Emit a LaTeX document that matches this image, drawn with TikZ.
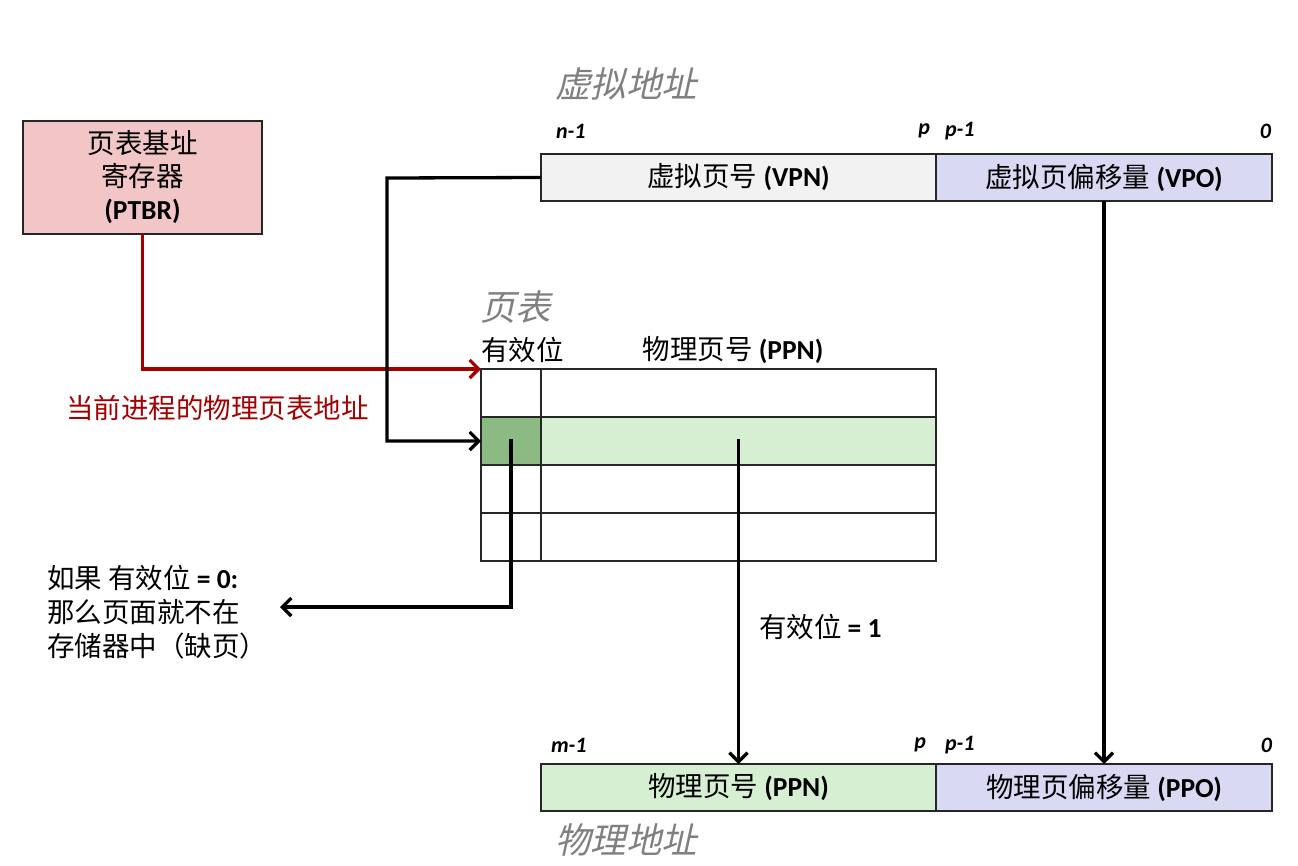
\documentclass[tikz,border=0pt]{standalone}
\usepackage{fontspec}
\setmainfont{Carlito}
\newfontfamily\cjk{Noto Sans CJK SC}
\newfontfamily\cjkit{Noto Sans CJK SC}[FakeSlant=0.22]
\usetikzlibrary{arrows.meta}
\definecolor{ptbrpink}{RGB}{242,198,198}
\definecolor{vpngray}{RGB}{242,242,242}
\definecolor{lav}{RGB}{217,217,243}
\definecolor{lgreen}{RGB}{214,239,210}
\definecolor{dgreen}{RGB}{139,187,130}
\definecolor{darkred}{RGB}{165,0,0}
\definecolor{titlegray}{RGB}{128,128,128}
\newcommand{\bodyfont}{\fontsize{27.5}{34}\selectfont}
\newcommand{\bitfont}{\fontsize{22}{26}\selectfont\bfseries\itshape}
\newcommand{\titlefont}{\fontsize{35.5}{42}\selectfont\cjkit\color{titlegray}}
\begin{document}
\begin{tikzpicture}[x=1pt,y=-1pt,
  box/.style={draw=black!85,line width=1.5pt,anchor=north west,inner sep=0pt,outer sep=0pt,font=\bodyfont},
  cell/.style={box,minimum height=48},
  lbl/.style={inner sep=0pt,outer sep=0pt,font=\bodyfont},
  bit/.style={inner sep=0pt,outer sep=0pt,font=\bitfont},
  ttl/.style={inner sep=0pt,outer sep=0pt,anchor=west,font=\titlefont},
  arr/.style={draw=black,line width=3.3pt,-{Straight Barb[length=9,width=18,line width=3.3pt]}},
  redarr/.style={draw=darkred,line width=3.3pt,-{Straight Barb[length=9,width=18,line width=3.3pt]}}]
\useasboundingbox (0,0) rectangle (1298,865);
% PTBR
\node[box,fill=ptbrpink,minimum width=239,minimum height=113,align=center] (ptbr) at (23,121)
  {{\cjk 页表基址}\\[-1pt]{\cjk 寄存器}\\[-1pt]\textbf{(PTBR)}};
% virtual address
\node[ttl] (vatitle) at (555,84) {虚拟地址};
\node[box,fill=vpngray,minimum width=395,minimum height=47] (vpn) at (541,154) {{\cjk 虚拟页号} \textbf{(VPN)}};
\node[box,fill=lav,minimum width=336,minimum height=47] (vpo) at (936,154) {{\cjk 虚拟页偏移量} \textbf{(VPO)}};
\node[bit,anchor=west] (vn1) at (556,131) {n-1};
\node[bit,anchor=east] (vp) at (930,131) {p};
\node[bit,anchor=west] (vp1) at (945,131) {p-1};
\node[bit,anchor=east] (v0) at (1271,131) {0};
% page table
\node[ttl] (pttitle) at (480,307) {页表};
\node[lbl,anchor=west] (validhdr) at (481,350) {\cjk 有效位};
\node[lbl] (ppnhdr) at (733,350) {{\cjk 物理页号} \textbf{(PPN)}};
\node[cell,minimum width=60] (v1) at (481,369) {};
\node[cell,minimum width=395] (r1) at (541,369) {};
\node[cell,minimum width=60,fill=dgreen] (v2) at (481,417) {};
\node[cell,minimum width=395,fill=lgreen] (r2) at (541,417) {};
\node[cell,minimum width=60] (v3) at (481,465) {};
\node[cell,minimum width=395] (r3) at (541,465) {};
\node[cell,minimum width=60] (v4) at (481,513) {};
\node[cell,minimum width=395] (r4) at (541,513) {};
% physical address
\node[box,fill=lgreen,minimum width=395,minimum height=47] (ppn) at (541,764) {{\cjk 物理页号} \textbf{(PPN)}};
\node[box,fill=lav,minimum width=336,minimum height=47] (ppo) at (936,764) {{\cjk 物理页偏移量} \textbf{(PPO)}};
\node[bit,anchor=west] (pm1) at (551,745) {m-1};
\node[bit,anchor=east] (pp) at (926,745) {p};
\node[bit,anchor=west] (pp1) at (945,745) {p-1};
\node[bit,anchor=east] (p0) at (1272,745) {0};
\node[ttl] (patitle) at (555,840) {物理地址};
% labels
\node[lbl,anchor=west,text=darkred] (curlbl) at (66,408) {\cjk 当前进程的物理页表地址};
\node[lbl,anchor=north west,align=left] (faultlbl) at (47,565)
  {{\cjk 如果 有效位} \textbf{= 0:}\\{\cjk 那么页面就不在}\\{\cjk 存储器中（缺页）}};
\node[lbl,anchor=west] (valid1) at (759,627) {{\cjk 有效位} \textbf{= 1}};
% connectors
\coordinate (bend) at (387,178);
\coordinate (faultend) at (280,607);
\draw[redarr] (ptbr.south) |- (v1.north west);
\draw[arr] (vpn.west) -- (bend) |- (v2.west);
\draw[arr] ([yshift=2]v2.center) |- (faultend);
\draw[arr] ([yshift=2]r2.center) -- (r2.center |- ppn.north);
\draw[arr] (vpo.south) -- (vpo.south |- ppo.north);
\end{tikzpicture}
\end{document}
